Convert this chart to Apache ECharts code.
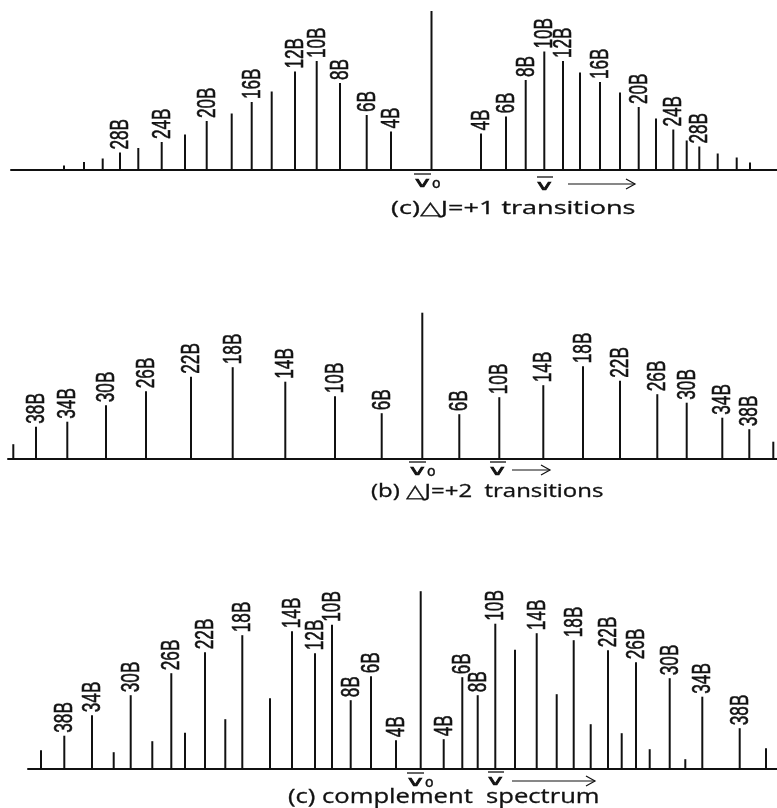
<!DOCTYPE html>
<html><head><meta charset="utf-8">
<script src="https://cdn.jsdelivr.net/npm/echarts@6/dist/echarts.min.js"></script>
<style>html,body{margin:0;padding:0;background:#fff}#c{width:777px;height:808px}</style>
</head><body><div id="c"></div>
<script>
// ---- Panel (c) ΔJ=+1 transitions ----
const posJ1 = [64, 84, 102.7, 120, 138.3, 161.7, 185, 206.7, 231.7, 251.7, 271.7, 295, 316.7, 340, 366.7, 391, 431.5,
               481, 506, 525.7, 544.3, 563, 580, 600, 620, 638.7, 656, 673.3, 686.7, 699.3, 717.7, 736.7, 750];
const hJ1   = [4, 7.5, 11, 17, 21.5, 27.5, 35, 48.5, 56, 67.5, 78, 98, 108.5, 86.5, 54.5, 38, 158.5,
               36, 53, 89.5, 118, 108.5, 97, 87.5, 77, 62.5, 51, 40, 29, 23, 16, 12, 7];
const labJ1 = ['', '', '', '28B', '', '24B', '', '20B', '', '16B', '', '12B', '10B', '8B', '6B', '4B', '',
               '4B', '6B', '8B', '10B', '12B', '', '16B', '', '20B', '', '24B', '', '28B', '', '', ''];

// ---- Panel (b) ΔJ=+2 transitions ----
const posJ2 = [13.3, 36, 67.3, 106, 146, 191, 232.7, 285.3, 335, 381.7, 422.3,
               459.3, 499.3, 543.3, 583, 620, 657.3, 686.7, 722.3, 749.3, 773.3];
const hJ2   = [14.5, 32, 37, 53.5, 67.5, 82, 91.5, 77, 62.5, 45.5, 146,
               44.5, 61.5, 73.5, 92.5, 78, 64.5, 56, 41, 29.5, 17];
const labJ2 = ['', '38B', '34B', '30B', '26B', '22B', '18B', '14B', '10B', '6B', '',
               '6B', '10B', '14B', '18B', '22B', '26B', '30B', '34B', '38B', ''];

// ---- Panel (c) complement spectrum ----
const posC = [41, 64.3, 92, 113.7, 130.7, 152.3, 171.3, 185, 205, 225.3, 242.3, 270, 292, 315, 332, 350.7, 371, 396, 420.7,
              443.7, 462.3, 477.7, 495.3, 515, 536.7, 556.7, 573.7, 590.7, 608, 621.7, 636, 649.7, 669.7, 685.3, 702.3, 739.7, 766];
const hC   = [18.5, 33, 53.5, 16.5, 73.5, 27.5, 95.5, 36, 116.5, 49.5, 133.5, 70.5, 137.5, 115.5, 144, 68.5, 92.5, 28.5, 177.5,
              29.5, 91.5, 73.5, 145, 119, 135.5, 74.5, 128.5, 44.5, 118.5, 35.5, 106.5, 19.5, 90.5, 9.5, 72, 40.5, 20.5];
const labC = ['', '38B', '34B', '', '30B', '', '26B', '', '22B', '', '18B', '', '14B', '12B', '10B', '8B', '6B', '4B', '',
              '4B', '6B', '8B', '10B', '', '14B', '', '18B', '', '22B', '', '26B', '', '30B', '', '34B', '38B', ''];

const INK = '#111';

function lineSeries(gi, pos, hts, labs) {
  return {
    type: 'custom', coordinateSystem: 'cartesian2d', xAxisIndex: gi, yAxisIndex: gi,
    clip: false, silent: true,
    data: pos.map((p, i) => [p, hts[i]]),
    renderItem: function (params, api) {
      const b = api.coord([api.value(0), 0]);
      const t = api.coord([api.value(0), api.value(1)]);
      const children = [{
        type: 'line', shape: {x1: b[0], y1: b[1], x2: t[0], y2: t[1]},
        style: {stroke: INK, lineWidth: 2}
      }];
      const s = labs[params.dataIndex];
      if (s) {
        children.push({
          type: 'text', x: t[0] + 1, y: t[1] - 3, rotation: Math.PI / 2, scaleX: 0.66, scaleY: 1,
          style: {text: s, font: '26px "Liberation Sans", Arial, sans-serif', fill: INK,
                  stroke: INK, lineWidth: 0.6,
                  align: 'left', verticalAlign: 'middle', textAlign: 'left', textVerticalAlign: 'middle'}
        });
      }
      return {type: 'group', children: children};
    }
  };
}

const grids = [
  {left: 11, right: 0, top: 9.5, height: 160},
  {left: 8, right: 0, top: 308.7, height: 150},
  {left: 28, right: 0, top: 588.7, height: 180}
];
const xAxes = grids.map((g, i) => ({
  gridIndex: i, type: 'value', min: g.left, max: 777,
  axisLine: {show: true, onZero: false, lineStyle: {color: INK, width: 2}},
  axisTick: {show: false}, axisLabel: {show: false}, splitLine: {show: false}
}));
const yAxes = grids.map((g, i) => ({
  gridIndex: i, type: 'value', min: 0, max: g.height, show: false, splitLine: {show: false}
}));

function vText(x, y) {
  return {type: 'text', x: x, y: y, scaleX: 1.75,
          style: {text: 'v', font: '14px "DejaVu Sans"', fill: INK, stroke: INK, lineWidth: 0.7,
                  align: 'left', verticalAlign: 'middle'}};
}
function nuLabel(x, y) {
  return [
    vText(x, y),
    {type: 'text', x: x + 17, y: y + 1, style: {text: 'o', font: '14px "DejaVu Sans"', fill: INK, stroke: INK, lineWidth: 0.4,
                                                 align: 'left', verticalAlign: 'middle'}},
    {type: 'line', shape: {x1: x - 1, y1: y - 9, x2: x + 16, y2: y - 9}, style: {stroke: INK, lineWidth: 1.3}}
  ];
}
function nuBar(x, y) {
  return [
    vText(x, y),
    {type: 'line', shape: {x1: x, y1: y - 9, x2: x + 16, y2: y - 9}, style: {stroke: INK, lineWidth: 1.3}}
  ];
}
function arrow(x1, x2, y) {
  return [
    {type: 'line', shape: {x1: x1, y1: y, x2: x2, y2: y}, style: {stroke: INK, lineWidth: 1.2}},
    {type: 'polyline', shape: {points: [[x2 - 9, y - 5], [x2, y], [x2 - 9, y + 5]]}, style: {stroke: INK, lineWidth: 1.2, fill: null}}
  ];
}
function caption(text, x, y, size, sx) {
  return {type: 'text', x: x, y: y, scaleX: sx,
          style: {text: text, font: size + 'px "Open Sans", sans-serif', fill: INK,
                  stroke: INK, lineWidth: 0.3, align: 'left', verticalAlign: 'middle'}};
}

const graphics = [].concat(
  nuLabel(415, 183), nuBar(537, 186), arrow(568, 635, 184),
  [caption('(c)\u25B3J=+1 transitions', 391, 209, 18, 1.5)],
  nuLabel(410, 471), nuBar(490, 471), arrow(512, 550, 470),
  [caption('(b) \u25B3J=+2  transitions', 371, 492, 18, 1.33)],
  nuLabel(408, 782), nuBar(488, 781), arrow(512, 595, 781),
  [caption('(c) complement  spectrum', 288, 797, 20, 1.28)]
);

const chart = echarts.init(document.getElementById('c'), null, {renderer: 'canvas'});
chart.setOption({
  backgroundColor: '#fff',
  animation: false,
  grid: grids,
  xAxis: xAxes,
  yAxis: yAxes,
  series: [lineSeries(0, posJ1, hJ1, labJ1), lineSeries(1, posJ2, hJ2, labJ2), lineSeries(2, posC, hC, labC)],
  graphic: graphics
});
</script>
</body></html>
